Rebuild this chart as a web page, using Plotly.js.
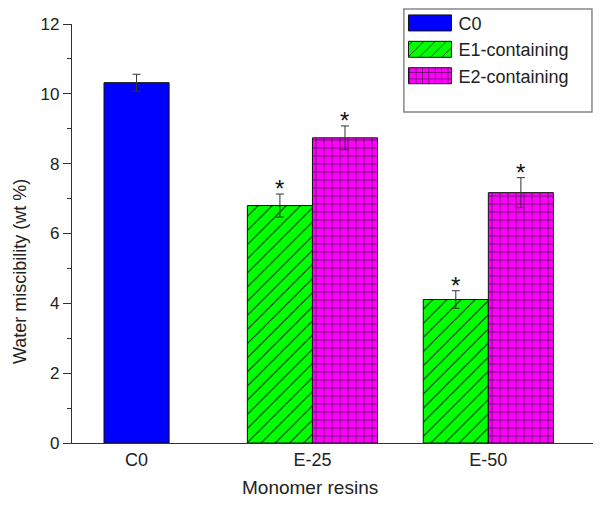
<!DOCTYPE html>
<html>
<head>
<meta charset="utf-8">
<script src="https://cdn.plot.ly/plotly-3.0.1.min.js"></script>
<style>html,body{margin:0;padding:0;background:#fff;}</style>
</head>
<body>
<div id="chart" style="width:604px;height:508px;"></div>
<script>
// ---- data ----
const categories = ['C0', 'E-25', 'E-50'];
const seriesNames = ['C0', 'E1-containing', 'E2-containing'];
const c0Cats = ['C0'];
const c0Values = [10.32];
const c0Errors = [0.24];
const e1Cats = ['E-25', 'E-50'];
const e1Values = [6.80, 4.11];
const e1Errors = [0.33, 0.25];
const e2Cats = ['E-25', 'E-50'];
const e2Values = [8.74, 7.17];
const e2Errors = [0.34, 0.43];
const significant = ['*', '*'];
const yTickVals = [0, 2, 4, 6, 8, 10, 12];
const xTitle = 'Monomer resins';
const yTitle = 'Water miscibility (wt %)';

// ---- style ----
const W = 0.37;  // bar width in category units
const font = 'Arial, "Liberation Sans", sans-serif';
const errStyle = {type: 'data', color: '#333', thickness: 1, width: 4, visible: true};
const lineStyle = {color: '#111', width: 1};

const traces = [
  {
    type: 'bar', name: seriesNames[0], x: c0Cats, y: c0Values,
    width: W, offset: -W / 2,
    marker: {color: '#0000ff', line: lineStyle},
    error_y: Object.assign({array: c0Errors}, errStyle)
  },
  {
    type: 'bar', name: seriesNames[1], x: e1Cats, y: e1Values,
    width: W, offset: -W,
    marker: {color: '#00ff00', line: lineStyle,
      pattern: {shape: '/', size: 10, solidity: 0.1, fgcolor: '#1a1a1a', bgcolor: '#00ff00', fillmode: 'replace'}},
    error_y: Object.assign({array: e1Errors}, errStyle)
  },
  {
    type: 'bar', name: seriesNames[2], x: e2Cats, y: e2Values,
    width: W, offset: 0,
    marker: {color: '#ff00ff', line: lineStyle,
      pattern: {shape: '+', size: 8, solidity: 0.15, fgcolor: '#1a1a1a', bgcolor: '#ff00ff', fillmode: 'replace'}},
    error_y: Object.assign({array: e2Errors}, errStyle)
  }
];

// asterisks above significant bars
const annotations = [];
const starFont = {family: font, size: 24, color: '#111'};
e1Cats.forEach((c, i) => {
  annotations.push({xref: 'x', yref: 'y', x: categories.indexOf(c) - W / 2, y: e1Values[i] + e1Errors[i],
    text: significant[i], showarrow: false, yanchor: 'bottom', yshift: -10, font: starFont});
});
e2Cats.forEach((c, i) => {
  annotations.push({xref: 'x', yref: 'y', x: categories.indexOf(c) + W / 2, y: e2Values[i] + e2Errors[i],
    text: significant[i], showarrow: false, yanchor: 'bottom', yshift: -10, font: starFont});
});
// axis titles as annotations (off-centre in the reference)
annotations.push({xref: 'paper', yref: 'paper', x: 0.457, y: -0.107, text: xTitle, showarrow: false,
  xanchor: 'center', yanchor: 'middle', font: {family: font, size: 19, color: '#222'}});
annotations.push({xref: 'paper', yref: 'paper', x: -0.1, y: 0.41, text: yTitle, showarrow: false, textangle: -90,
  xanchor: 'center', yanchor: 'middle', font: {family: font, size: 18, color: '#222'}});

const layout = {
  width: 604, height: 508,
  margin: {l: 72, r: 11, t: 24, b: 65, autoexpand: false},
  paper_bgcolor: '#fff', plot_bgcolor: '#fff',
  barmode: 'overlay',
  showlegend: true,
  legend: {x: 0.665, y: 1.046, xanchor: 'left', yanchor: 'top', bgcolor: 'rgba(0,0,0,0)', borderwidth: 0,
    font: {family: font, size: 18, color: '#222'}, tracegroupgap: 0},
  xaxis: {
    type: 'category', categoryorder: 'array', categoryarray: categories,
    range: [-0.367, 2.595],
    showline: true, linecolor: '#333', linewidth: 1.2, ticks: '', showgrid: false, zeroline: false,
    tickfont: {family: font, size: 18, color: '#222'}
  },
  yaxis: {
    range: [0, 12], tickvals: yTickVals,
    showline: true, linecolor: '#333', linewidth: 1.2, ticks: 'outside', ticklen: 8, tickcolor: '#333', tickwidth: 1.2,
    minor: {dtick: 1, ticks: 'outside', ticklen: 4, tickcolor: '#333', tickwidth: 1.2, showgrid: false},
    showgrid: false, zeroline: false,
    tickfont: {family: font, size: 17, color: '#222'}
  },
  shapes: [
    {type: 'rect', xref: 'paper', yref: 'paper', x0: 0.637, x1: 0.998, y0: 0.79, y1: 1.036,
      line: {color: '#888', width: 1.5}, fillcolor: 'rgba(0,0,0,0)', layer: 'below'}
  ],
  annotations: annotations
};

// widen legend swatches: 43px wide, ending 7px before the label text
function widenSwatches() {
  document.querySelectorAll('#chart .legend [clip-path]').forEach(el => el.removeAttribute('clip-path'));
  document.querySelectorAll('#chart .legend .traces').forEach(t => {
    const txt = t.querySelector('text.legendtext');
    if (!txt) return;
    const tl = txt.getBoundingClientRect().left;
    t.querySelectorAll('.legendpoints path').forEach(p => {
      const m = p.getScreenCTM();
      if (!m) return;
      const right = (tl - 7 - m.e) / m.a;
      const left = right - 43 / m.a;
      p.setAttribute('d', 'M' + right.toFixed(2) + ',8H' + left.toFixed(2) + 'V-8H' + right.toFixed(2) + 'Z');
    });
  });
}

const gd = document.getElementById('chart');
Plotly.newPlot(gd, traces, layout, {displayModeBar: false}).then(() => {
  widenSwatches();
  gd.on('plotly_afterplot', widenSwatches);
  requestAnimationFrame(widenSwatches);
  setTimeout(widenSwatches, 50);
  setTimeout(widenSwatches, 300);
});
</script>
</body>
</html>
